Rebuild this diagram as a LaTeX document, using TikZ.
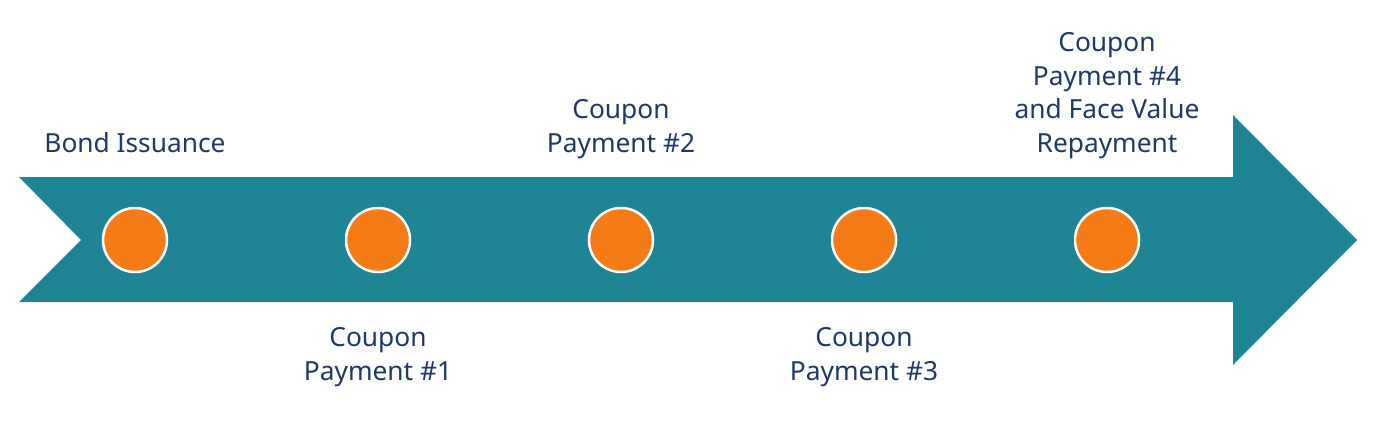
\documentclass[tikz,border=0pt]{standalone}
\usepackage{fontspec}
\setmainfont{Noto Sans}
\definecolor{teal}{HTML}{1F8494}
\definecolor{dot}{HTML}{F47B16}
\definecolor{navy}{HTML}{1F3864}
\begin{document}
\begin{tikzpicture}[x=1pt,y=-1pt,
  dotc/.style={circle,fill=dot,draw=white,line width=2.5pt,minimum size=64pt,inner sep=0pt},
  lbl/.style={text=navy,align=center,font=\fontsize{26.3}{33.5}\selectfont,inner sep=0pt}]
\useasboundingbox (0,0) rectangle (1384,428);
\fill[teal] (19,177) -- (1233,177) -- (1233,115) -- (1357,240) -- (1233,365) -- (1233,302) -- (19,302) -- (81,240) -- cycle;
\node[dotc] (d0) at (135,240) {};
\node[dotc] (d1) at (378,240) {};
\node[dotc] (d2) at (621,240) {};
\node[dotc] (d3) at (864,240) {};
\node[dotc] (d4) at (1107,240) {};
\node[lbl,anchor=base] (l0) at (135,152) {Bond Issuance};
\node[lbl,anchor=base] (l2) at (621,152) {Coupon\\Payment \#2};
\node[lbl,anchor=base] (l4) at (1107,152) {Coupon\\Payment \#4\\and Face Value\\Repayment};
\node[lbl,anchor=base] (l1) at (378,380) {Coupon\\Payment \#1};
\node[lbl,anchor=base] (l3) at (864,380) {Coupon\\Payment \#3};
\end{tikzpicture}
\end{document}
